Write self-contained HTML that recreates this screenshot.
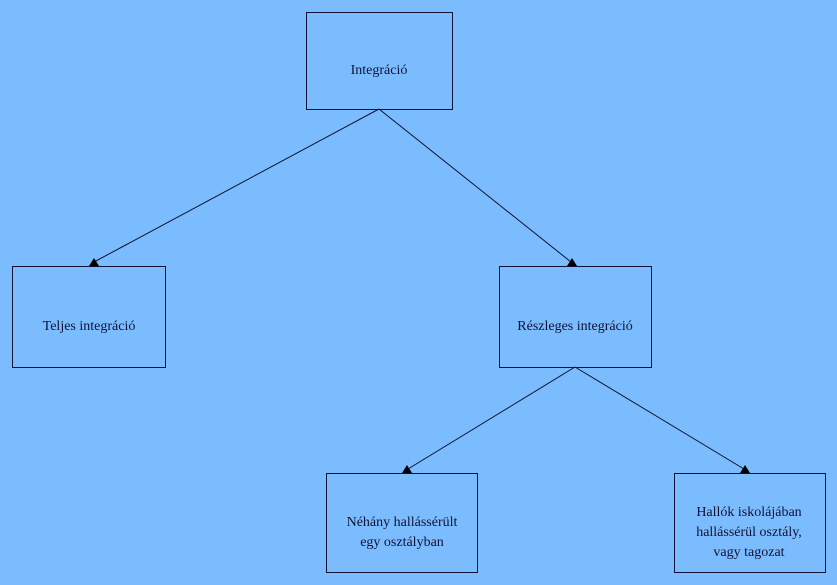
<!DOCTYPE html>
<html><head><meta charset="utf-8"><style>
html,body{margin:0;padding:0;background:#7bbcfe;width:837px;height:585px;overflow:hidden}
text{font-family:"Liberation Serif",serif;font-size:14px;fill:#111133}
</style></head><body>
<svg width="837" height="585" xmlns="http://www.w3.org/2000/svg">
<g fill="none" stroke="#111133" stroke-width="1">
<rect x="306.5" y="12.5" width="146" height="97"/>
<rect x="12.5" y="266.5" width="153" height="101"/>
<rect x="499.5" y="266.5" width="152" height="101"/>
<rect x="326.5" y="473.5" width="151" height="99"/>
<rect x="674.5" y="473.5" width="151" height="99"/>
<line x1="379" y1="109" x2="94" y2="262"/>
<line x1="379" y1="109" x2="571" y2="262"/>
<line x1="575" y1="367" x2="408" y2="469"/>
<line x1="575" y1="367" x2="744" y2="469"/>
</g>
<g fill="#000">
<polygon points="94,258 89,266 99,266"/>
<polygon points="572,258 567,266 577,266"/>
<polygon points="407,465 402,473 412,473"/>
<polygon points="745,465 740,473 750,473"/>
</g>
<g text-anchor="middle">
<text x="379" y="74">Integráció</text>
<text x="89" y="330">Teljes integráció</text>
<text x="575" y="330">Részleges integráció</text>
<text x="402" y="526">Néhány hallássérült</text>
<text x="402" y="546">egy osztályban</text>
<text x="749" y="516">Hallók iskolájában</text>
<text x="749" y="536">hallássérül osztály,</text>
<text x="749" y="556">vagy tagozat</text>
</g>
</svg>
</body></html>
